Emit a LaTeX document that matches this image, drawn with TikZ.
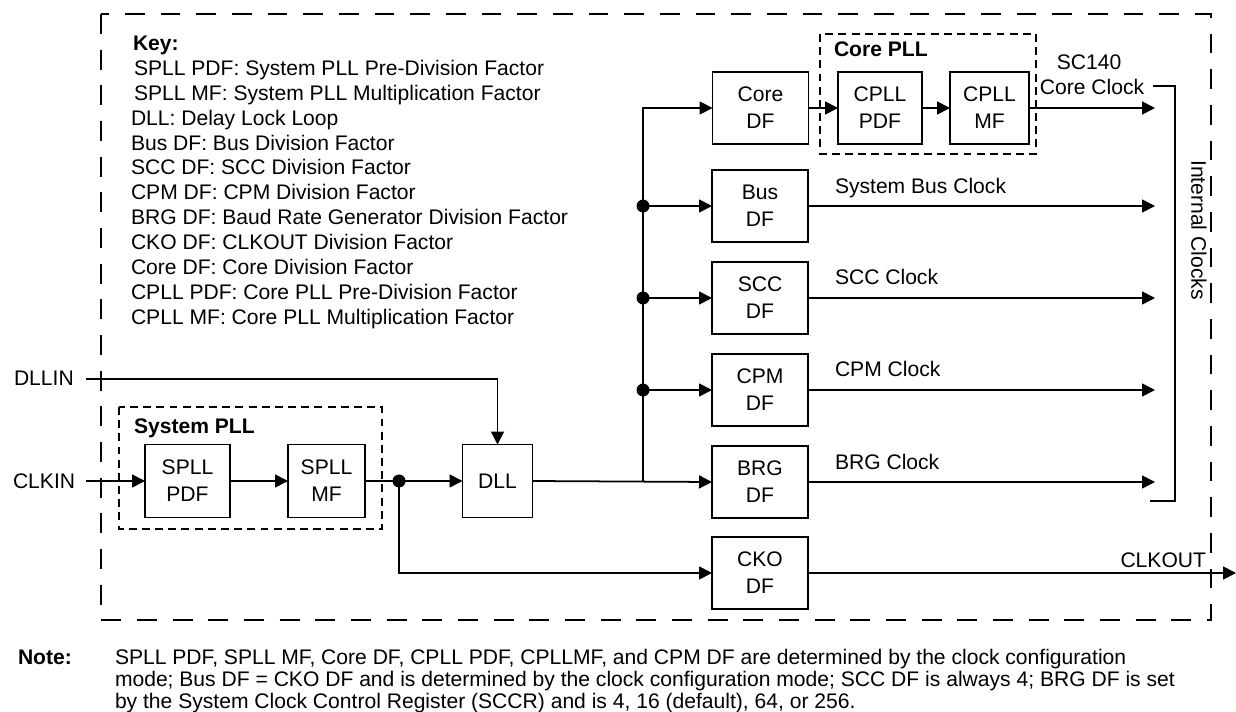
\documentclass[tikz,border=0pt]{standalone}
\usepackage{fontspec}
\setmainfont{Liberation Sans}
\usetikzlibrary{arrows.meta}
\begin{document}
\begin{tikzpicture}[x=0.02cm,y=-0.02cm,
  every node/.style={inner sep=0pt, outer sep=0pt},
  txt/.style={font=\fontsize{12}{14.1}\selectfont},
  btxt/.style={font=\fontsize{12}{14.1}\selectfont\bfseries},
  blk/.style={draw, line width=1pt, align=center, minimum height=1.44cm, font=\fontsize{12}{15.3}\selectfont},
  conn/.style={line width=1pt},
  arr/.style={conn, -{Triangle[length=0.26cm,width=0.26cm]}},
  outerbox/.style={line width=1.1pt, dash pattern=on 11.3pt off 9pt},
  innerbox/.style={line width=1pt, dash pattern=on 4.5pt off 3pt},
  jdot/.style={circle, fill, minimum size=0.26cm}
]
\useasboundingbox (0,0) rectangle (1236,712);

% outer boundary
\draw[outerbox] (101,14) rectangle (1211,620);

% key
\node[btxt, anchor=base west] (key) at (133,50.5) {Key:};
\foreach \i/\xx/\t in {1/134/{SPLL PDF: System PLL Pre-Division Factor},
  2/134/{SPLL MF: System PLL Multiplication Factor},
  3/131/{DLL: Delay Lock Loop},
  4/131/{Bus DF: Bus Division Factor},
  5/131/{SCC DF: SCC Division Factor},
  6/131/{CPM DF: CPM Division Factor},
  7/131/{BRG DF: Baud Rate Generator Division Factor},
  8/131/{CKO DF: CLKOUT Division Factor},
  9/131/{Core DF: Core Division Factor},
  10/131/{CPLL PDF: Core PLL Pre-Division Factor},
  11/131/{CPLL MF: Core PLL Multiplication Factor}}
  \node[txt, anchor=base west] (key\i) at (\xx,50.5+24.9*\i) {\t};

% PLL groups
\draw[innerbox] (119,407) rectangle (382,529);
\node[btxt, anchor=base west] (spll) at (134,433.5) {System PLL};
\draw[innerbox] (820,34) rectangle (1036,154);
\node[btxt, anchor=base west] (cpll) at (834,56.5) {Core PLL};

% blocks
\node[blk, minimum width=1.70cm, minimum height=1.46cm] (spllpdf) at (187.5,481) {SPLL\\PDF};
\node[blk, minimum width=1.54cm, minimum height=1.46cm] (spllmf) at (326.5,481) {SPLL\\MF};
\node[blk, minimum width=1.40cm, minimum height=1.46cm] (dll) at (497.5,481) {DLL};
\node[blk, minimum width=1.92cm] (coredf) at (760.5,108) {Core\\DF};
\node[blk, minimum width=1.68cm] (cpllpdf) at (880,108) {CPLL\\PDF};
\node[blk, minimum width=1.58cm] (cpllmf) at (989.5,108) {CPLL\\MF};
\node[blk, minimum width=1.92cm] (busdf) at (760,206) {Bus\\DF};
\node[blk, minimum width=1.92cm] (sccdf) at (760,298) {SCC\\DF};
\node[blk, minimum width=1.92cm] (cpmdf) at (760,390) {CPM\\DF};
\node[blk, minimum width=1.92cm] (brgdf) at (760,482) {BRG\\DF};
\node[blk, minimum width=1.92cm] (ckodf) at (760,573) {CKO\\DF};

% inputs
\node[txt, anchor=base west] (dllin) at (14,385.5) {DLLIN};
\node[txt, anchor=base west] (clkin) at (13,488.5) {CLKIN};
\coordinate (dllinS) at (86,379);
\coordinate (clkinS) at (86,481);

% junctions
\node[jdot] (j0) at (399,481) {};
\coordinate (jb) at (643,481);
\node[jdot] (j1) at (643,206) {};
\node[jdot] (j2) at (643,298) {};
\node[jdot] (j3) at (643,390) {};

% output ends
\coordinate (o0) at (1155,108);
\coordinate (o1) at (1155,206);
\coordinate (o2) at (1155,298);
\coordinate (o3) at (1155,390);
\coordinate (o4) at (1155,482);
\coordinate (o5) at (1236,573);

% connectors
\draw[arr] (dllinS) -| (dll.north);
\draw[arr] (clkinS) -- (spllpdf.west);
\draw[arr] (spllpdf) -- (spllmf);
\draw[conn] (spllmf.east) -- (j0.center);
\draw[arr] (j0.center) -- (dll.west);
\draw[arr] (j0.center) |- (ckodf.west);
\draw[arr] (dll.east) -- (brgdf.west);
\draw[arr] (jb) |- (coredf.west);
\draw[arr] (j1.center) -- (busdf.west);
\draw[arr] (j2.center) -- (sccdf.west);
\draw[arr] (j3.center) -- (cpmdf.west);
\draw[arr] (coredf) -- (cpllpdf);
\draw[arr] (cpllpdf) -- (cpllmf);
\draw[arr] (cpllmf.east) -- (o0);
\draw[arr] (busdf.east) -- (o1);
\draw[arr] (sccdf.east) -- (o2);
\draw[arr] (cpmdf.east) -- (o3);
\draw[arr] (brgdf.east) -- (o4);
\draw[arr] (ckodf.east) -- (o5);

% bracket
\coordinate (br1) at (1153,86);
\coordinate (br2) at (1175,86);
\coordinate (br3) at (1175,501);
\coordinate (br4) at (1150,501);
\draw[conn] (br1) -- (br2) -- (br3) -- (br4);
\node[txt, rotate=-90] (intclk) at (1199,230) {Internal Clocks};

% output labels
\node[txt, anchor=base] (sc140) at (1089,69.5) {SC140};
\node[txt, anchor=base] (coreclk) at (1092,94.5) {Core Clock};
\node[txt, anchor=base west] (busclk) at (835,193.5) {System Bus Clock};
\node[txt, anchor=base west] (sccclk) at (835,284.5) {SCC Clock};
\node[txt, anchor=base west] (cpmclk) at (835,376.5) {CPM Clock};
\node[txt, anchor=base west] (brgclk) at (835,469.5) {BRG Clock};
\node[txt, anchor=base east] (clkout) at (1206,567.5) {CLKOUT};

% note
\node[btxt, anchor=base west] (notehd) at (18,664) {Note:};
\node[txt, anchor=base west, align=left, font=\fontsize{12}{12.47}\selectfont] (note) at (115,708) {SPLL PDF, SPLL MF, Core DF, CPLL PDF, CPLLMF, and CPM DF are determined by the clock configuration\\
mode; Bus DF = CKO DF and is determined by the clock configuration mode; SCC DF is always 4; BRG DF is set\\
by the System Clock Control Register (SCCR) and is 4, 16 (default), 64, or 256.};
\end{tikzpicture}
\end{document}
